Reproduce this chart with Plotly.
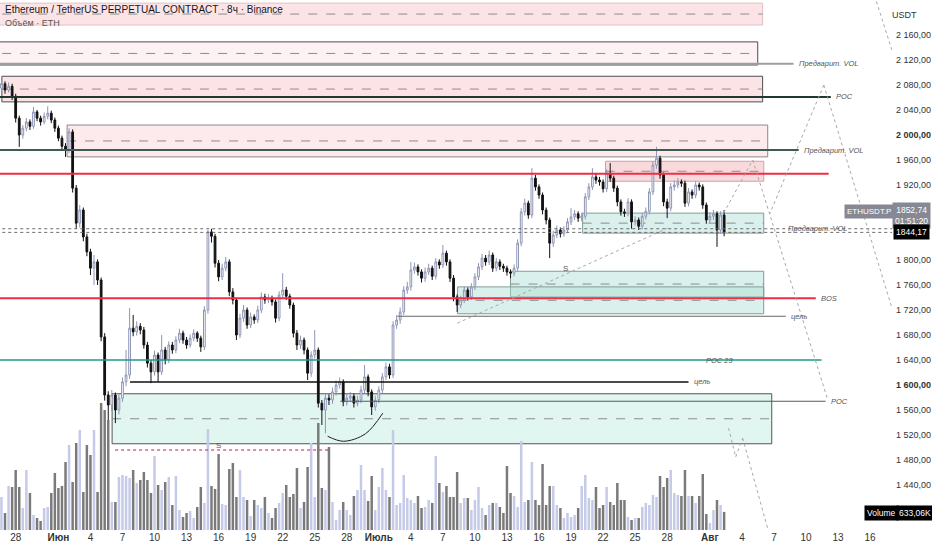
import pandas as pd
import plotly.graph_objects as go

# 8h candles, ETHUSDT.P (Binance)
START = '2023-05-26 16:00'
first_open = 2075
closes = [2082, 2072, 2078, 2062, 2027, 2000, 2011, 2021, 2014, 2037,
          2027, 2021, 2030, 2035, 2024, 2011, 1995, 1982, 1976, 2005,
          1915, 1859, 1880, 1837, 1813, 1787, 1797, 1768, 1677, 1584,
          1568, 1584, 1560, 1579, 1605, 1616, 1691, 1685, 1694, 1688,
          1664, 1635, 1621, 1648, 1621, 1656, 1640, 1664, 1656, 1672,
          1683, 1672, 1664, 1675, 1683, 1675, 1661, 1720, 1845, 1838,
          1795, 1773, 1787, 1797, 1749, 1736, 1680, 1707, 1720, 1696,
          1709, 1704, 1720, 1741, 1736, 1739, 1733, 1707, 1744, 1752,
          1742, 1728, 1683, 1664, 1672, 1656, 1619, 1648, 1656, 1571,
          1560, 1579, 1576, 1589, 1600, 1605, 1573, 1579, 1582, 1571,
          1576, 1592, 1613, 1589, 1565, 1576, 1592, 1613, 1629, 1616,
          1696, 1704, 1717, 1752, 1757, 1784, 1789, 1781, 1771, 1781,
          1787, 1774, 1797, 1792, 1811, 1797, 1771, 1741, 1728, 1736,
          1752, 1741, 1757, 1773, 1789, 1803, 1797, 1808, 1787, 1797,
          1790, 1787, 1781, 1779, 1787, 1827, 1877, 1891, 1872, 1931,
          1917, 1904, 1880, 1864, 1827, 1840, 1848, 1842, 1848, 1861,
          1869, 1874, 1867, 1870, 1901, 1917, 1933, 1928, 1925, 1914,
          1939, 1931, 1915, 1893, 1877, 1875, 1893, 1861, 1864, 1854,
          1870, 1878, 1909, 1952, 1963, 1936, 1893, 1883, 1917, 1920,
          1925, 1923, 1891, 1909, 1904, 1920, 1917, 1888, 1864, 1870,
          1874, 1848, 1872, 1844.17]
highs = [2088, 2086, 2084, 2082, 2066, 2031, 2016, 2027, 2025, 2045,
         2040, 2031, 2036, 2046, 2039, 2028, 2015, 1999, 1987, 2011,
         2009, 1920, 1888, 1884, 1842, 1818, 1808, 1801, 1772, 1683,
         1590, 1592, 1588, 1585, 1612, 1656, 1723, 1712, 1702, 1699,
         1693, 1669, 1640, 1655, 1652, 1680, 1661, 1670, 1669, 1678,
         1690, 1687, 1677, 1681, 1689, 1686, 1679, 1726, 1848, 1850,
         1842, 1800, 1794, 1805, 1801, 1755, 1740, 1714, 1728, 1724,
         1716, 1713, 1727, 1748, 1746, 1745, 1743, 1737, 1750, 1779,
         1757, 1746, 1732, 1688, 1679, 1676, 1660, 1654, 1688, 1660,
         1576, 1586, 1585, 1596, 1607, 1612, 1609, 1586, 1589, 1586,
         1583, 1599, 1632, 1617, 1593, 1583, 1598, 1619, 1636, 1634,
         1702, 1712, 1724, 1758, 1765, 1797, 1796, 1793, 1785, 1788,
         1794, 1791, 1803, 1801, 1824, 1815, 1801, 1776, 1745, 1743,
         1758, 1756, 1763, 1779, 1795, 1810, 1808, 1815, 1812, 1803,
         1801, 1794, 1791, 1785, 1793, 1833, 1883, 1898, 1895, 1947,
         1936, 1921, 1908, 1884, 1868, 1847, 1855, 1852, 1854, 1867,
         1883, 1880, 1878, 1876, 1907, 1923, 1947, 1938, 1933, 1929,
         1945, 1955, 1935, 1919, 1897, 1882, 1899, 1897, 1870, 1868,
         1876, 1884, 1915, 1958, 1981, 1967, 1940, 1898, 1923, 1927,
         1931, 1929, 1927, 1915, 1913, 1926, 1924, 1921, 1892, 1876,
         1880, 1878, 1878, 1880]
lows = [2070, 2066, 2068, 2056, 2020, 1981, 1994, 2006, 2008, 2010,
        2022, 2015, 2017, 2025, 2019, 2005, 1990, 1975, 1965, 1971,
        1908, 1850, 1852, 1830, 1806, 1776, 1760, 1760, 1670, 1575,
        1536, 1558, 1539, 1553, 1573, 1598, 1610, 1678, 1679, 1681,
        1658, 1628, 1603, 1615, 1605, 1616, 1633, 1635, 1650, 1651,
        1667, 1666, 1658, 1660, 1670, 1669, 1653, 1656, 1714, 1828,
        1788, 1766, 1768, 1782, 1742, 1729, 1672, 1675, 1701, 1690,
        1691, 1698, 1699, 1715, 1730, 1731, 1727, 1700, 1702, 1739,
        1736, 1722, 1676, 1656, 1658, 1649, 1608, 1613, 1642, 1564,
        1536, 1523, 1568, 1570, 1583, 1594, 1566, 1567, 1574, 1564,
        1566, 1571, 1587, 1582, 1552, 1559, 1571, 1587, 1608, 1610,
        1611, 1690, 1698, 1712, 1746, 1751, 1778, 1775, 1764, 1765,
        1776, 1768, 1769, 1786, 1787, 1791, 1765, 1734, 1717, 1723,
        1731, 1735, 1736, 1752, 1768, 1784, 1791, 1792, 1781, 1782,
        1784, 1781, 1775, 1771, 1774, 1782, 1822, 1871, 1866, 1867,
        1911, 1898, 1873, 1857, 1803, 1821, 1835, 1836, 1837, 1843,
        1856, 1864, 1861, 1862, 1865, 1896, 1912, 1922, 1919, 1908,
        1909, 1925, 1909, 1886, 1871, 1869, 1870, 1850, 1855, 1848,
        1849, 1865, 1873, 1904, 1946, 1930, 1886, 1867, 1878, 1911,
        1915, 1917, 1885, 1886, 1898, 1899, 1911, 1882, 1858, 1859,
        1864, 1821, 1842, 1838]
# volume, thousands of ETH
volumes_k = [1155, 595, 1540, 1505, 2100, 1505, 770, 2100, 1295, 525,
             420, 315, 770, 805, 1295, 1995, 1470, 1540, 2380, 2975,
             1680, 3045, 3500, 1330, 2975, 2625, 3500, 1330, 4445, 4200,
             3850, 980,
             980, 1855, 1925, 1890, 1820, 2100, 1645, 1750, 2030, 1750,
             1295, 2590, 1575, 1400, 1680, 1855, 875, 1890, 700, 455,
             595, 665, 420, 805, 1505, 945, 3535, 1540, 1435, 2660,
             910, 875, 2135, 2345, 1155, 2100, 1155, 1050, 490, 1050,
             875, 770, 1155, 595, 420, 770, 945, 1295, 1575, 1155, 1260,
             2170, 770, 980, 2205, 3045, 1155, 3745, 1470, 1400, 2905,
             980, 350, 700, 980, 700, 525, 1190, 1400, 2275, 1400,
             1015, 1890, 700, 1505, 2170, 1400, 1155, 3500, 875, 945,
             1925, 1120, 1050, 945, 1190, 770, 805, 1050, 945, 2590,
             1645, 1330, 1540, 1155, 1155, 2030, 945, 1120, 1120, 700,
             1050, 1505, 770, 525, 875, 945, 945, 805, 595, 2240,
             1295, 1190, 805, 3115, 980, 1050, 2380, 1050, 875, 2310,
             875, 1540, 1540, 875, 770, 420, 595, 455, 525, 770,
             1540, 1925, 1120, 1050, 1505, 770, 875, 1505, 980, 875,
             1645, 1050, 1050, 455, 350, 420, 420, 805, 945, 875,
             1225, 1155, 1890, 1505, 1820, 2100, 1295, 1225, 1190, 2100,
             1190, 1190, 945, 1190, 1960, 560, 245,
             700, 1050, 875, 633.06]

opens = [first_open] + closes[:-1]
times = pd.date_range(START, periods=len(closes), freq='8h')

# supply / demand zones
zone_start = ['2023-05-20', '2023-05-20', '2023-05-26 17:00', '2023-06-01 19:30', '2023-07-22 05:30',
              '2023-07-20 02:00', '2023-07-13 08:00', '2023-07-08 09:00', '2023-06-06 00:40']
zone_end = ['2023-08-05 22:30', '2023-08-05 11:30', '2023-08-05 22:30', '2023-08-06 10:00', '2023-08-06 01:00',
            '2023-08-06 01:00', '2023-08-06 01:00', '2023-08-06 01:00', '2023-08-06 19:00']
zone_low = [2176, 2112, 2053, 1965, 1926, 1843, 1741, 1714, 1506]
zone_high = [2211, 2149, 2094, 2016, 1958, 1875, 1782, 1757, 1586]
zone_kind = ['pink_soft', 'pink_pale', 'pink_box', 'pink_grey', 'pink_strong',
             'teal', 'teal', 'teal', 'teal_box']

# horizontal levels
level_price = [2114, 2061, 1976, 1938, 1850, 1844.17, 1739, 1710, 1640, 1605, 1574, 1496]
level_start = ['2023-05-20', '2023-05-20', '2023-05-20', '2023-05-20', '2023-05-20', '2023-05-20', '2023-05-20',
               '2023-07-02 17:45', '2023-05-20', '2023-06-07 17:00', '2023-06-27 09:30', '2023-06-06 07:30']
level_end = ['2023-08-08 20:00', '2023-08-12 07:40', '2023-08-09 07:40', '2023-08-12 03:00', '2023-08-25',
             '2023-08-25', '2023-08-10 22:00', '2023-08-08 02:30', '2023-08-11 11:00', '2023-07-30 00:00',
             '2023-08-11 20:00', '2023-06-26 11:00']
level_label = ['Предварит. VOL', 'POC', 'Предварит. VOL', '', 'Предварит. VOL', '', 'BOS', 'цель',
               'POC 23', 'цель', 'POC', '']
level_label_at = [None, None, None, None, '2023-08-08 04:00', None, None, None,
                  '2023-08-01 21:40', None, None, None]
level_kind = ['vol_grey', 'poc_dark', 'vol_dark', 'red', 'dotted', 'dotted', 'red', 'target_grey',
              'teal', 'target_black', 'poc_grey', 'red_dotted']

# small text marks
mark_text = ['S', 'S']
mark_time = ['2023-06-15 23:00', '2023-07-18 12:00']
mark_price = [1504, 1787]

# projected path (dotted)
proj_t0 = ['2023-07-08 08:40', '2023-08-02 07:00', '2023-08-05 00:15', '2023-08-11 16:00', '2023-08-11 16:00',
           '2023-08-16 06:00', '2023-08-02 18:00', '2023-08-03 10:00', '2023-08-04 01:40']
proj_p0 = [1699, 1875, 1960, 2080, 2080, 2232, 1531, 1485, 1515]
proj_t1 = ['2023-07-28 01:00', '2023-08-05 00:15', '2023-08-12 01:00', '2023-08-06 14:30', '2023-08-18 21:00',
           '2023-08-18 14:00', '2023-08-03 10:00', '2023-08-04 01:40', '2023-08-06 17:00']
proj_p1 = [1851, 1960, 1576, 1874, 1677, 2107, 1485, 1515, 1352]

# rounding-bottom arc
arc_time = ['2023-06-26 05:00', '2023-06-27 17:00', '2023-06-29 18:00', '2023-07-01 09:00']
arc_price = [1518, 1510, 1522, 1555]

price_ticks = [2160, 2120, 2080, 2040, 2000, 1960, 1920, 1800, 1760, 1720, 1680, 1640, 1600, 1560, 1520, 1480, 1440]
date_ticks = ['2023-05-28', '2023-06-01', '2023-06-04', '2023-06-07', '2023-06-10', '2023-06-13', '2023-06-16',
              '2023-06-19', '2023-06-22', '2023-06-25', '2023-06-28', '2023-07-01', '2023-07-04', '2023-07-07',
              '2023-07-10', '2023-07-13', '2023-07-16', '2023-07-19', '2023-07-22', '2023-07-25', '2023-07-28',
              '2023-08-01', '2023-08-04', '2023-08-07', '2023-08-10', '2023-08-13', '2023-08-16']
date_labels = ['28', '<b>Июн</b>', '4', '7', '10', '13', '16', '19', '22', '25', '28', '<b>Июль</b>', '4', '7',
               '10', '13', '16', '19', '22', '25', '28', '<b>Авг</b>', '4', '7', '10', '13', '16']

X_RANGE = ['2023-05-26 12:45', '2023-08-18 01:15']
Y_RANGE = [1368, 2216]
FONT = 'Liberation Sans, Arial, sans-serif'

ZONE_STYLE = {
    'pink_soft': dict(fill='rgba(250,205,210,0.55)', line='#e3c0c4'),
    'pink_pale': dict(fill='rgba(252,230,232,0.5)', line='#4d4d4d'),
    'pink_box': dict(fill='rgba(249,208,213,0.6)', line='#4d4d4d'),
    'pink_grey': dict(fill='rgba(250,220,223,0.6)', line='#8a8a8a'),
    'pink_strong': dict(fill='rgba(245,170,180,0.45)', line='#c9a3a8'),
    'teal': dict(fill='rgba(172,221,212,0.45)', line='#7f9c97'),
    'teal_box': dict(fill='rgba(200,236,229,0.55)', line='#555555'),
}
LEVEL_STYLE = {
    'vol_grey': dict(color='#9e9e9e', width=2, dash='solid'),
    'poc_dark': dict(color='#1e3a30', width=2, dash='solid'),
    'vol_dark': dict(color='#3f5b55', width=2, dash='solid'),
    'red': dict(color='#ef2d44', width=2, dash='solid'),
    'dotted': dict(color='#6b6b6b', width=1, dash='dot'),
    'target_grey': dict(color='#666666', width=1, dash='solid'),
    'teal': dict(color='#1f9a88', width=1.5, dash='solid'),
    'target_black': dict(color='#101010', width=1.5, dash='solid'),
    'poc_grey': dict(color='#4f5f5c', width=1, dash='solid'),
    'red_dotted': dict(color='#c2185b', width=1, dash='dot'),
}


def price_label(v):
    return f'{v:,.2f}'.replace(',', ' ').replace('.', ',')


def _zone_shapes():
    shapes = []
    for x0, x1, lo, hi, kind in zip(zone_start, zone_end, zone_low, zone_high, zone_kind):
        st = ZONE_STYLE[kind]
        shapes.append(dict(type='rect', xref='x', yref='y', x0=x0, x1=x1, y0=lo, y1=hi,
                           fillcolor=st['fill'], line=dict(color=st['line'], width=1), layer='below'))
        shapes.append(dict(type='line', xref='x', yref='y', x0=x0, x1=x1, y0=(lo + hi) / 2, y1=(lo + hi) / 2,
                           line=dict(color='#8c8c8c', width=1, dash='dash'), layer='below'))
    return shapes


def _level_shapes():
    shapes = []
    for p, x0, x1, kind in zip(level_price, level_start, level_end, level_kind):
        shapes.append(dict(type='line', xref='x', yref='y', x0=x0, x1=x1, y0=p, y1=p,
                           line=LEVEL_STYLE[kind], layer='above'))
    return shapes


def _projection_shapes():
    shapes = []
    for t0, p0, t1, p1 in zip(proj_t0, proj_p0, proj_t1, proj_p1):
        shapes.append(dict(type='line', xref='x', yref='y', x0=t0, y0=p0, x1=t1, y1=p1,
                           line=dict(color='#a8a8a8', width=1, dash='dot'), layer='above'))
    return shapes


def _level_annotations():
    annos = []
    for p, x1, text, at in zip(level_price, level_end, level_label, level_label_at):
        if not text:
            continue
        annos.append(dict(x=at if at else x1, y=p, xref='x', yref='y', text=f'<i>{text}</i>',
                          showarrow=False, xanchor='center' if text == 'POC 23' else 'left',
                          xshift=0 if at else 3, yanchor='middle',
                          font=dict(size=7.5, color='#555555', family=FONT)))
    for text, t, p in zip(mark_text, mark_time, mark_price):
        annos.append(dict(x=t, y=p, xref='x', yref='y', text=text, showarrow=False,
                          font=dict(size=8, color='#555555', family=FONT)))
    return annos


def _side_labels():
    def box(text, x, y, bg, size=8.5, color='white'):
        return dict(xref='paper', yref='paper', x=x, y=y, text=text, showarrow=False,
                    bgcolor=bg, font=dict(size=size, color=color, family=FONT),
                    xanchor='center', yanchor='middle', borderpad=2)
    return [
        dict(xref='paper', yref='paper', x=0.003, y=0.983, text='Ethereum / TetherUS PERPETUAL CONTRACT · 8ч · Binance',
             showarrow=False, xanchor='left', yanchor='middle', font=dict(size=10, color='#131722', family=FONT)),
        dict(xref='paper', yref='paper', x=0.003, y=0.957, text='Объём · ETH',
             showarrow=False, xanchor='left', yanchor='middle', font=dict(size=9, color='#555555', family=FONT)),
        dict(xref='paper', yref='paper', x=1.03, y=0.985, text='USDT', showarrow=False,
             font=dict(size=9, color='#333333', family=FONT)),
        box('ETHUSDT.P', 0.974, 0.601, '#868993', size=8),
        box(f'{price_label(1852.74).replace(" ", "")}<br>01:51:20', 1.0215, 0.594, '#868993'),
        box(price_label(closes[-1]).replace(' ', ''), 1.0215, 0.562, '#000000'),
        box('Volume', 0.988, 0.032, '#000000'),
        box(price_label(volumes_k[-1]).replace(' ', '') + 'K', 1.026, 0.032, '#000000'),
    ]


fig = go.Figure()

vol_colors = ['#c5cae9' if c >= o else '#7a7a7a' for o, c in zip(opens, closes)]
fig.add_trace(go.Bar(x=times, y=volumes_k, yaxis='y2', marker=dict(color=vol_colors, line=dict(width=0)),
                     showlegend=False, hoverinfo='skip'))

fig.add_trace(go.Candlestick(x=times, open=opens, high=highs, low=lows, close=closes,
                             increasing=dict(line=dict(color='#8e95b5', width=1), fillcolor='#ffffff'),
                             decreasing=dict(line=dict(color='#111111', width=1), fillcolor='#111111'),
                             whiskerwidth=0, showlegend=False))

fig.add_trace(go.Scatter(x=arc_time, y=arc_price, mode='lines', line=dict(color='#222222', width=1, shape='spline'),
                         showlegend=False, hoverinfo='skip'))

fig.update_layout(
    width=932, height=550,
    margin=dict(l=0, r=40, t=0, b=20),
    paper_bgcolor='white', plot_bgcolor='white',
    bargap=0.3,
    showlegend=False,
    font=dict(family=FONT),
    shapes=_zone_shapes() + _level_shapes() + _projection_shapes(),
    annotations=_level_annotations() + _side_labels(),
    xaxis=dict(type='date', range=X_RANGE, showgrid=False, zeroline=False, rangeslider=dict(visible=False),
               tickvals=date_ticks, ticktext=date_labels, tickfont=dict(size=10, color='#333333'),
               ticks='', showline=False, automargin=False),
    yaxis=dict(side='right', range=Y_RANGE, showgrid=False, zeroline=False, tickvals=price_ticks,
               ticktext=[f'<b>{price_label(v)}</b>' if v in (2000, 1600) else price_label(v) for v in price_ticks],
               tickfont=dict(size=9, color='#333333'), ticks='', showline=False,
               automargin=False, ticklabelstandoff=3),
    yaxis2=dict(overlaying='y', range=[0, 18550], visible=False, fixedrange=True),
)

# the page is photographed at 932x550, so drop the default body margin
fig.write_html('out.html', config={'displayModeBar': False},
               post_script="document.body.style.margin='0';")
